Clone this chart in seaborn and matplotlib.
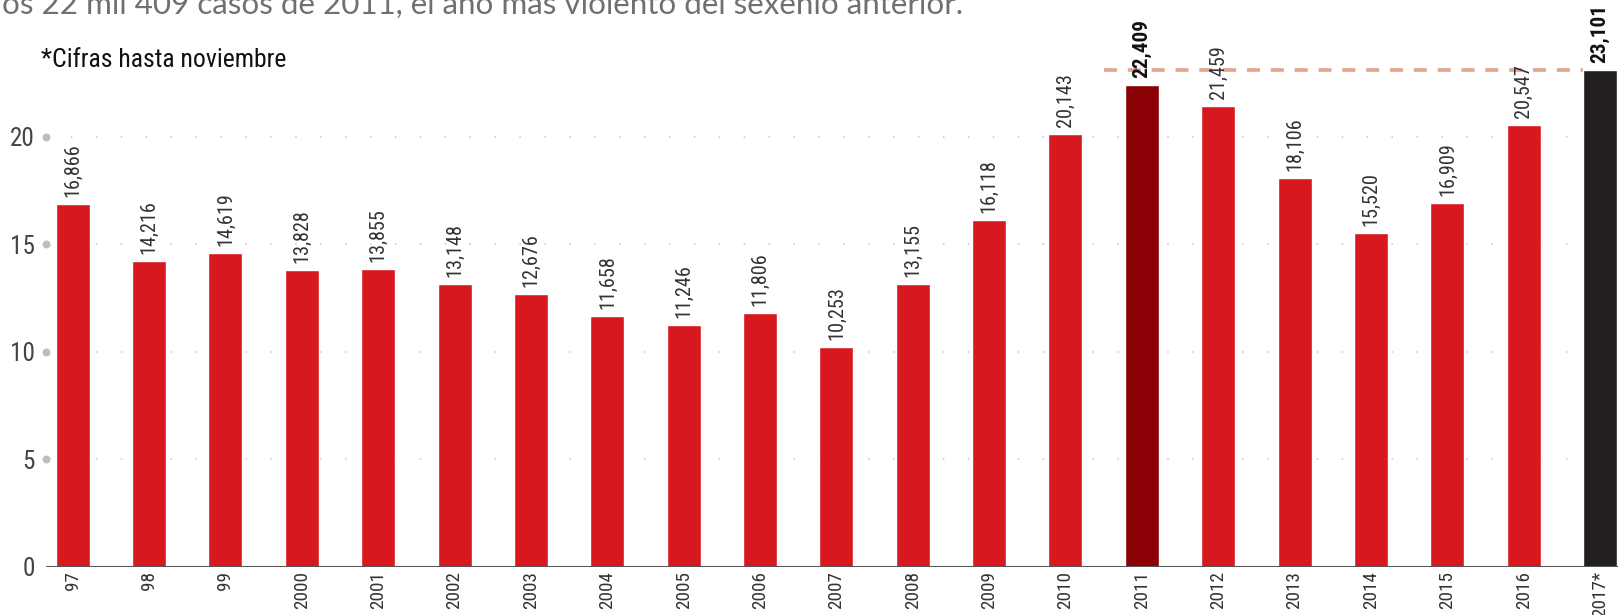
import numpy as np
import matplotlib
matplotlib.use("Agg")
import matplotlib.pyplot as plt
from matplotlib import font_manager as fm
import seaborn as sns

# homicidios por año (datos del gráfico)
anios = ["97", "98", "99", "2000", "2001", "2002", "2003", "2004", "2005", "2006",
         "2007", "2008", "2009", "2010", "2011", "2012", "2013", "2014", "2015",
         "2016", "2017*"]
homicidios = [16866, 14216, 14619, 13828, 13855, 13148, 12676, 11658, 11246, 11806,
              10253, 13155, 16118, 20143, 22409, 21459, 18106, 15520, 16909,
              20547, 23101]
destacados = ["2011", "2017*"]
yticks = [0, 5, 10, 15, 20]

titulo = "os 22 mil 409 casos de 2011, el año más violento del sexenio anterior."
nota = "*Cifras hasta noviembre"

ROJO = "#d7191f"
colores = [ROJO] * len(anios)
colores[anios.index("2011")] = "#8a0004"
colores[anios.index("2017*")] = "#231f20"

# fuente estrecha: la más condensada que haya
nombres = {f.name for f in fm.fontManager.ttflist}
preferidas = ["Noto Sans ExtraCondensed", "Noto Sans Condensed", "Roboto Condensed",
              "Liberation Sans Narrow", "Open Sans Condensed", "Noto Sans SemiCondensed"]
estrecha = next((n for n in preferidas if n in nombres), None)
stretch = "normal"
if estrecha is None:
    for f in fm.fontManager.ttflist:
        if "condensed" in f.name.lower() or "condensed" in str(f.stretch).lower():
            estrecha, stretch = f.name, f.stretch
            break
if estrecha is None:
    estrecha = "Roboto"

negritas = [f.fname for f in fm.fontManager.ttflist
            if f.name == estrecha and f.style == "normal"
            and (f.weight in ("bold", 700) or str(f.weight) == "700")]
fp_negrita = fm.FontProperties(fname=negritas[0]) if negritas else \
    fm.FontProperties(family=estrecha, weight="bold")

sns.set_theme(style="white")
plt.rcParams["font.family"] = [estrecha, "DejaVu Sans"]
plt.rcParams["font.stretch"] = stretch

W, H = 1618, 615
fig = plt.figure(figsize=(W / 100, H / 100), dpi=100)
rend = fig.canvas.get_renderer()


def tam(texto, px, **kw):
    # tamaño de letra para que el texto mida px de largo
    t = fig.text(0, 0, texto, fontsize=20, **kw)
    w = t.get_window_extent(rend).width
    t.remove()
    return 20 * px / w


fs_val = tam("10,253", 54)
fs_x = tam("2007", 38)
fs_y = tam("20", 25)
fs_nota = tam(nota, 246)
fs_tit = tam(titulo, 963, family=["Lato", "DejaVu Sans"])

ax = fig.add_axes([46 / W, 48 / H, (W - 46) / W, 567 / H])

valores = np.array(homicidios) / 1000
sns.barplot(x=anios, y=valores, hue=anios, palette=colores, legend=False,
            saturation=1, width=0.445, ax=ax, zorder=3)

ax.set_xlim(-0.35, len(anios) - 1 + 0.235)
ax.set_ylim(0, 26.37)

# rejilla punteada
for y in yticks[1:]:
    ax.axhline(y, color="#cccccc", lw=1.3, ls=(0, (0.8, 13)), zorder=1)
# puntos de marca a la izquierda
ax.scatter(np.full(len(yticks[1:]), ax.get_xlim()[0]), yticks[1:], s=22,
           color="#bdbdbd", zorder=4, clip_on=False)
ax.axhline(0, color="#555555", lw=2.2, zorder=5)

# línea de referencia del nivel 2017
i11 = anios.index("2011")
ax.hlines(valores[-1], i11 - 0.5, len(anios) - 1 - 0.22, color="#e2a38f", lw=2.6,
          ls=(0, (3.6, 3.0)), zorder=2)

# etiquetas de valor
etiquetas = [f"{v:,}" for v in homicidios]
for c in ax.containers:
    idx = [int(round(p.get_x() + p.get_width() / 2)) for p in c]
    labs = [etiquetas[i] for i in idx]
    ts = ax.bar_label(c, labels=labs, rotation=90, padding=5,
                      fontsize=fs_val, color="#333333")
    for i, t in zip(idx, ts):
        if anios[i] in destacados:
            t.set_fontproperties(fp_negrita)
            t.set_fontsize(fs_val * 1.05)
            t.set_color("#111111")

ax.set_yticks(yticks)
ax.set_yticklabels([str(v) for v in yticks], fontsize=fs_y, color="#444444")
ax.set_xticks(range(len(anios)))
ax.set_xticklabels(anios, rotation=90, fontsize=fs_x, color="#333333")
ax.tick_params(axis="y", length=0, pad=8)
ax.tick_params(axis="x", length=0, pad=3)
ax.set_xlabel("")
ax.set_ylabel("")
for s in ax.spines.values():
    s.set_visible(False)

fig.text(41 / W, 1 - 60 / H, nota, fontsize=fs_nota, color="#111111", va="center")
fig.text(0.001, 1 - 14 / H, titulo, fontsize=fs_tit, color="#707070", va="baseline",
         family=["Lato", "DejaVu Sans"])

fig.savefig("out.png", dpi=100)
